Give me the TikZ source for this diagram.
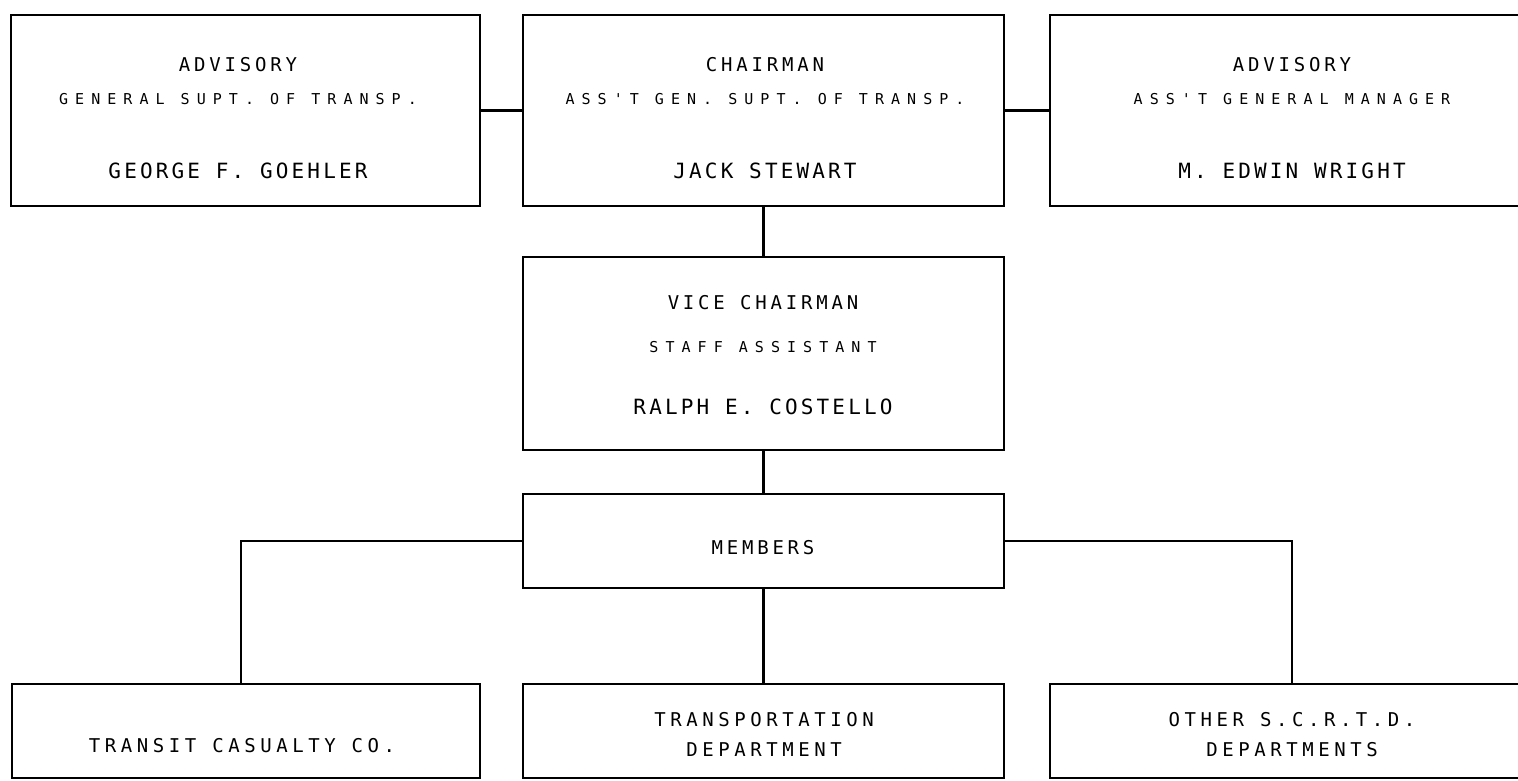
\documentclass[tikz,border=0pt]{standalone}
\usepackage{fontspec}
\setmainfont{DejaVu Sans Mono}
\newfontfamily\fhead[LetterSpace=20]{DejaVu Sans Mono}
\newfontfamily\fsub[LetterSpace=47]{DejaVu Sans Mono}
\newfontfamily\fname[LetterSpace=15]{DejaVu Sans Mono}
\newfontfamily\fdept[LetterSpace=24]{DejaVu Sans Mono}
\begin{document}
\begin{tikzpicture}[x=1pt,y=-1pt,
  box/.style={draw, line width=2.6pt, inner sep=0pt, outer sep=0pt},
  link/.style={line width=2.2pt},
  headtxt/.style={inner sep=0pt, font=\fhead\fontsize{19}{21}\selectfont},
  subtxt/.style={inner sep=0pt, font=\fsub\fontsize{15}{17}\selectfont},
  nametxt/.style={inner sep=0pt, font=\fname\fontsize{21}{23}\selectfont},
  depttxt/.style={inner sep=0pt, font=\fdept\fontsize{19}{21}\selectfont}]
\useasboundingbox (0,0) rectangle (1518,781);
% boxes
\node[box, minimum width=469pt, minimum height=191pt] (adv1) at (245.5,110.5) {};
\node[box, minimum width=481pt, minimum height=191pt] (chair) at (763.5,110.5) {};
\node[box, minimum width=480pt, minimum height=191pt] (adv2) at (1290,110.5) {};
\node[box, minimum width=481pt, minimum height=193pt] (vice) at (763.5,353.5) {};
\node[box, minimum width=481pt, minimum height=94pt] (mem) at (763.5,541) {};
\node[box, minimum width=468pt, minimum height=94pt] (dept1) at (246,731) {};
\node[box, minimum width=481pt, minimum height=94pt] (dept2) at (763.5,731) {};
\node[box, minimum width=480pt, minimum height=94pt] (dept3) at (1290,731) {};
% texts
\node[headtxt] (adv1a) at (238,65) {ADVISORY};
\node[subtxt]  (adv1b) at (238,99) {GENERAL SUPT. OF TRANSP.};
\node[nametxt] (adv1c) at (238,171) {GEORGE F. GOEHLER};
\node[headtxt] (chaira) at (765,65) {CHAIRMAN};
\node[subtxt]  (chairb) at (765,99) {ASS'T GEN. SUPT. OF TRANSP.};
\node[nametxt] (chairc) at (765,171) {JACK STEWART};
\node[headtxt] (adv2a) at (1292,65) {ADVISORY};
\node[subtxt]  (adv2b) at (1292,99) {ASS'T GENERAL MANAGER};
\node[nametxt] (adv2c) at (1292,171) {M. EDWIN WRIGHT};
\node[headtxt] (vicea) at (763,303) {VICE CHAIRMAN};
\node[subtxt]  (viceb) at (763,347) {STAFF ASSISTANT};
\node[nametxt] (vicec) at (763,407) {RALPH E. COSTELLO};
\node[headtxt] (mema) at (763,548) {MEMBERS};
\node[depttxt] (dept1a) at (242,746) {TRANSIT CASUALTY CO.};
\node[depttxt] (dept2a) at (764,720) {TRANSPORTATION};
\node[depttxt] (dept2b) at (764,750) {DEPARTMENT};
\node[depttxt] (dept3a) at (1292,720) {OTHER S.C.R.T.D.};
\node[depttxt] (dept3b) at (1292,750) {DEPARTMENTS};
% connectors
\draw[link] (adv1) -- (chair);
\draw[link] (chair) -- (adv2);
\draw[link] (chair) -- (vice);
\draw[link] (vice) -- (mem);
\draw[link] (mem) -- (dept2);
\draw[link] (mem.west) -| ([xshift=-5pt]dept1.north);
\draw[link] (mem.east) -| ([xshift=2pt]dept3.north);
\end{tikzpicture}
\end{document}
